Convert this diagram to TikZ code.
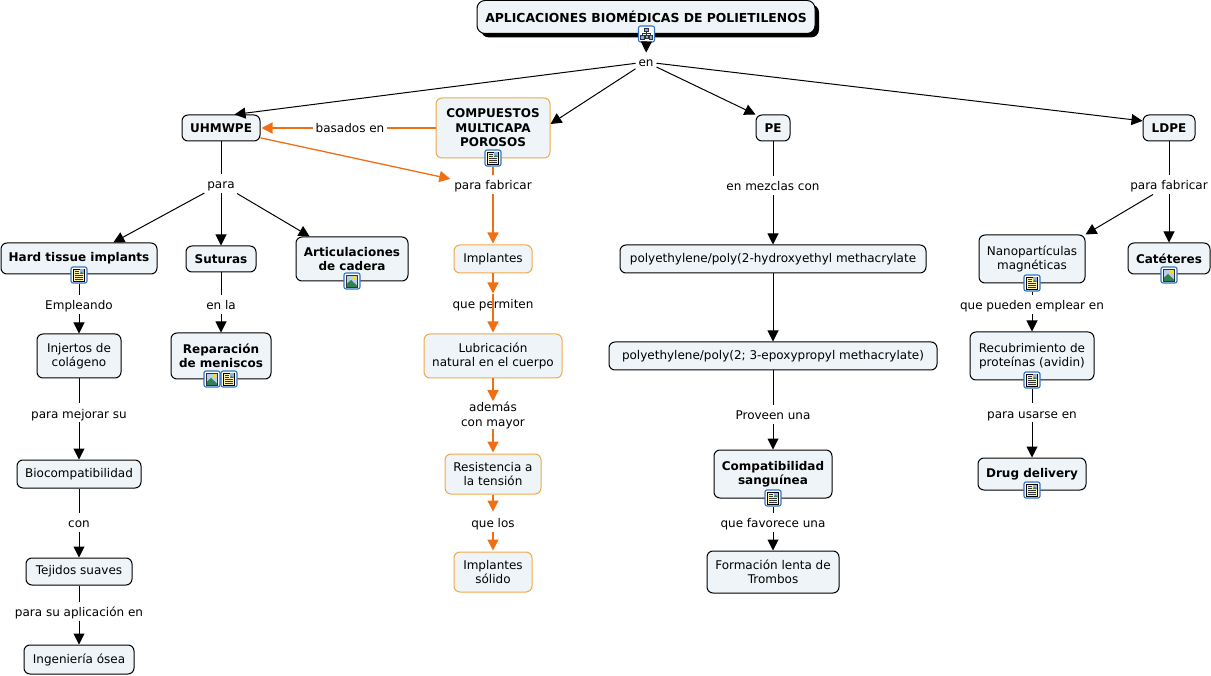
\documentclass[tikz,border=0pt]{standalone}
\usepackage{fontspec}
\setmainfont{DejaVu Sans}
\usetikzlibrary{arrows.meta,shadows}
\definecolor{boxfill}{RGB}{238,244,247}
\definecolor{boxorange}{RGB}{240,170,70}
\definecolor{linkorange}{RGB}{240,110,20}
\definecolor{iconblue}{RGB}{50,115,200}
\definecolor{noteyellow}{RGB}{252,240,170}
\definecolor{hillgreen}{RGB}{50,130,80}
\newcommand{\iconframe}[2]{\node[icon frame] (#1) at (#2) {};}
\newcommand{\noteicon}[2]{\iconframe{#1}{#2}
\begin{scope}[shift={(#2)}]
\fill[noteyellow] (-5.5,-6) rectangle (5.5,6);
\draw[black,line width=.7pt] (-5.5,-6) rectangle (5.5,6);
\fill[iconblue!55] (.5,-5.5) rectangle (5,-1);
\fill[hillgreen] (.5,-1) -- (2.5,-3) -- (5,-1) -- cycle;
\foreach \ypos/\xend in {-4/-.5,-2/-.5,0.5/4,2.5/4,4.5/4} {\draw[black!80,line width=.7pt] (-4,\ypos) -- (\xend,\ypos);}
\end{scope}}
\newcommand{\imageicon}[2]{\iconframe{#1}{#2}
\begin{scope}[shift={(#2)}]
\fill[iconblue!35] (-5.5,-6) rectangle (5.5,6);
\fill[yellow!85!orange] (2.5,-3) circle (2);
\fill[hillgreen] (-5.5,6) -- (-5.5,3) -- (-1,-1) -- (5.5,5) -- (5.5,6) -- cycle;
\draw[black!80,line width=.7pt] (-5.5,-6) rectangle (5.5,6);
\end{scope}}
\newcommand{\mapicon}[2]{\iconframe{#1}{#2}
\begin{scope}[shift={(#2)},line width=.7pt]
\draw[black!80] (0,-3) -- (0,1) (-4,2) -- (-4,-.5) -- (4,-.5) -- (4,2);
\filldraw[draw=black!80,fill=iconblue!60] (-1.8,-6) rectangle (1.8,-2.6) (-6,1.8) rectangle (-2.4,5.2) (2.4,1.8) rectangle (6,5.2) (-1.5,1.2) rectangle (1.5,4.2);
\end{scope}}
\begin{document}
\begin{tikzpicture}[x=1pt,y=-1pt,font=\fontsize{12}{14.5}\selectfont]
\tikzstyle{concept}=[draw=black,fill=boxfill,rounded corners=6pt,line width=1pt,align=center,inner sep=0pt,outer sep=.5pt]
\tikzstyle{porous}=[concept,draw=boxorange]
\tikzstyle{main}=[font=\fontsize{12}{14.5}\selectfont\bfseries]
\tikzstyle{raised}=[execute at end node={\\[-3pt]\rule{0pt}{1pt}}]
\tikzstyle{link}=[inner xsep=3pt,inner ysep=0pt,minimum height=19pt,align=center,outer sep=0pt]
\tikzstyle{oneline}=[link,text height=12pt,text depth=2pt]
\tikzstyle{icon frame}=[draw=iconblue,fill=white,rounded corners=2pt,line width=1.1pt,minimum size=16pt,inner sep=0pt]
\tikzstyle{arrow}=[draw=black,line width=1pt,-{Triangle[length=11pt,width=11pt]}]
\tikzstyle{plain}=[draw=black,line width=1pt]
\tikzstyle{orangearrow}=[draw=linkorange,line width=1.3pt,-{Triangle[length=11pt,width=11pt]},shorten >=1pt]
\tikzstyle{orangeplain}=[draw=linkorange,line width=1.3pt]
\useasboundingbox (0,0) rectangle (1211,676);
\node[concept,font=\fontsize{12.4}{14.5}\selectfont\bfseries,minimum width=338pt,minimum height=33pt,rounded corners=8pt,drop shadow={shadow xshift=4pt,shadow yshift=-4pt,fill=black,opacity=1}] (root) at (646,17) {APLICACIONES BIOMÉDICAS DE POLIETILENOS};
\node[concept,main,minimum width=78pt,minimum height=26pt] (uhmwpe) at (221,128) {UHMWPE};
\node[porous,main,raised,minimum width=114pt,minimum height=60pt] (compuestos) at (493,128) {COMPUESTOS\\MULTICAPA\\POROSOS};
\node[concept,main,minimum width=34pt,minimum height=26pt] (pe) at (773,128) {PE};
\node[concept,main,minimum width=52pt,minimum height=26pt] (ldpe) at (1169,128) {LDPE};
\node[concept,main,raised,minimum width=156pt,minimum height=31pt] (hard) at (79,258.5) {Hard tissue implants};
\node[concept,main,minimum width=70pt,minimum height=26pt] (suturas) at (221,259) {Suturas};
\node[concept,main,raised,minimum width=112pt,minimum height=44pt] (articulaciones) at (352,259) {Articulaciones\\de cadera};
\node[concept,minimum width=84pt,minimum height=44pt] (injertos) at (79,356) {Injertos de\\colágeno};
\node[concept,main,raised,minimum width=100pt,minimum height=46pt] (reparacion) at (221,356) {Reparación\\de meniscos};
\node[concept,minimum width=124pt,minimum height=28pt] (biocomp) at (79,474) {Biocompatibilidad};
\node[concept,minimum width=106pt,minimum height=27pt] (tejidos) at (79,571.5) {Tejidos suaves};
\node[concept,minimum width=110pt,minimum height=29pt] (ingenieria) at (79,659.5) {Ingeniería ósea};
\node[porous,minimum width=78pt,minimum height=28pt] (implantes) at (493,259) {Implantes};
\node[porous,minimum width=138pt,minimum height=44pt] (lubricacion) at (493,356) {Lubricación\\natural en el cuerpo};
\node[porous,minimum width=96pt,minimum height=40pt] (resistencia) at (493,474) {Resistencia a\\la tensión};
\node[porous,minimum width=78pt,minimum height=40pt] (solido) at (493,572) {Implantes\\sólido};
\node[concept,minimum width=306pt,minimum height=28pt] (mezcla 1) at (773,259) {polyethylene/poly(2-hydroxyethyl methacrylate};
\node[concept,minimum width=328pt,minimum height=28pt] (mezcla 2) at (773,356) {polyethylene/poly(2; 3-epoxypropyl methacrylate)};
\node[concept,main,raised,minimum width=118pt,minimum height=48pt] (compatibilidad) at (773,474) {Compatibilidad\\sanguínea};
\node[concept,minimum width=132pt,minimum height=42pt] (formacion) at (773,572) {Formación lenta de\\Trombos};
\node[concept,raised,minimum width=106pt,minimum height=48pt] (nano) at (1032,259) {Nanopartículas\\magnéticas};
\node[concept,main,raised,minimum width=82pt,minimum height=31pt] (cateteres) at (1169,258.5) {Catéteres};
\node[concept,raised,minimum width=124pt,minimum height=48pt] (recubrimiento) at (1032,356) {Recubrimiento de\\proteínas (avidin)};
\node[concept,main,raised,minimum width=108pt,minimum height=32pt] (drug) at (1032,474) {Drug delivery};
\mapicon{root icon}{646.5,34}
\noteicon{compuestos icon}{493,158}
\noteicon{hard icon}{79,275}
\imageicon{articulaciones icon}{352,281}
\imageicon{reparacion icon 1}{212,379}
\noteicon{reparacion icon 2}{229,379}
\noteicon{compatibilidad icon}{773,498}
\noteicon{nano icon}{1032,283}
\imageicon{cateteres icon}{1169,275}
\noteicon{recubrimiento icon}{1032,380}
\noteicon{drug icon}{1032,490}
\node[oneline] (en) at (646,62) {en};
\node[oneline] (basados) at (350,128) {basados en};
\node[oneline] (para) at (221,184) {para};
\node[oneline] (fabricar 1) at (493,185) {para fabricar};
\node[oneline] (mezclas) at (773,186) {en mezclas con};
\node[oneline] (fabricar 2) at (1169,185) {para fabricar};
\node[oneline] (empleando) at (79,305) {Empleando};
\node[oneline] (en la) at (221,305) {en la};
\node[oneline] (permiten) at (493,304) {que permiten};
\node[oneline] (pueden) at (1032,305) {que pueden emplear en};
\node[oneline] (mejorar) at (79,413) {para mejorar su};
\node[link] (ademas) at (493,415.5) {además\\con mayor};
\node[oneline] (proveen) at (773,415) {Proveen una};
\node[oneline] (usarse) at (1032,413) {para usarse en};
\node[oneline] (con) at (79,522) {con};
\node[oneline] (los) at (493,522) {que los};
\node[oneline] (favorece) at (773,522) {que favorece una};
\node[oneline] (aplicacion) at (79,611) {para su aplicación en};
\draw[arrow] (root icon) -- (en);
\draw[arrow] (en) -- (uhmwpe.45);
\draw[arrow] (en) -- (compuestos.4);
\draw[arrow] (en) -- (pe.north west);
\draw[arrow] (en) -- (ldpe.165);
\draw[orangeplain] (compuestos) -- (basados);
\draw[orangearrow] (basados) -- (uhmwpe);
\draw[orangearrow] (uhmwpe.-14) -- (fabricar 1.172);
\draw[orangeplain] (compuestos icon) -- (fabricar 1);
\draw[orangearrow] (fabricar 1) -- (implantes);
\draw[orangearrow] (implantes) -- (permiten);
\draw[orangearrow] (permiten.north) -- (lubricacion);
\draw[orangearrow] (lubricacion) -- (ademas);
\draw[orangearrow] (ademas) -- (resistencia);
\draw[orangearrow] (resistencia) -- (los);
\draw[orangearrow] (los) -- (solido);
\draw[plain] (uhmwpe) -- (para);
\draw[arrow] (para) -- (hard.25);
\draw[arrow] (para) -- (suturas);
\draw[arrow] (para) -- (articulaciones.152);
\draw[plain] (hard icon) -- (empleando);
\draw[arrow] (empleando) -- (injertos);
\draw[plain] (injertos) -- (mejorar);
\draw[arrow] (mejorar) -- (biocomp);
\draw[plain] (biocomp) -- (con);
\draw[arrow] (con) -- (tejidos);
\draw[plain] (tejidos) -- (aplicacion);
\draw[arrow] (aplicacion) -- (ingenieria);
\draw[plain] (suturas) -- (en la);
\draw[arrow] (en la) -- (reparacion);
\draw[plain] (pe) -- (mezclas);
\draw[arrow] (mezclas) -- (mezcla 1);
\draw[arrow] (mezcla 1) -- (mezcla 2);
\draw[plain] (mezcla 2) -- (proveen);
\draw[arrow] (proveen) -- (compatibilidad);
\draw[plain] (compatibilidad icon) -- (favorece);
\draw[arrow] (favorece) -- (formacion);
\draw[plain] (ldpe) -- (fabricar 2);
\draw[arrow] (fabricar 2) -- (nano.north east);
\draw[arrow] (fabricar 2) -- (cateteres);
\draw[plain] (nano icon) -- (pueden);
\draw[arrow] (pueden) -- (recubrimiento);
\draw[plain] (recubrimiento icon) -- (usarse);
\draw[arrow] (usarse) -- (drug);
\end{tikzpicture}
\end{document}
